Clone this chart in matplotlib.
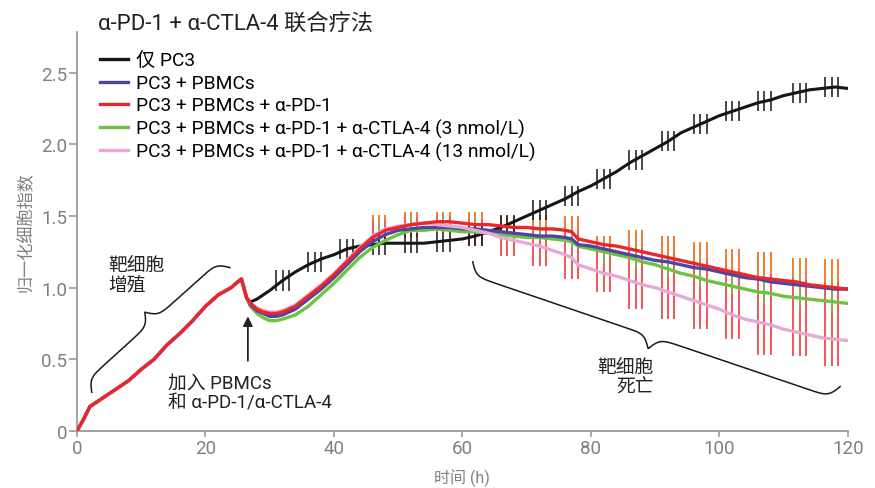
import numpy as np
import matplotlib
matplotlib.use("Agg")
import matplotlib.pyplot as plt

plt.rcParams['font.family'] = ['Roboto', 'Noto Sans CJK SC', 'DejaVu Sans']

# shared growth phase before PBMCs are added (h, normalized cell index)
t_growth = [0, 1, 2, 3, 4, 6, 8, 10, 12, 14, 16, 18, 20, 22, 24, 25, 25.6, 26.4]
growth = [0, 0.08, 0.17, 0.20, 0.23, 0.29, 0.35, 0.43, 0.50, 0.60, 0.68, 0.77,
          0.87, 0.95, 1.00, 1.04, 1.06, 0.93]

# after treatment
t_after = [27, 28, 29, 30, 31, 32, 34, 36, 38, 40, 42, 44, 46, 48, 50, 52, 54, 56,
           58, 60, 62, 64, 66, 68, 70, 72, 74, 76, 77, 78, 80, 82, 84, 86, 88, 90,
           92, 94, 96, 98, 100, 102, 104, 106, 108, 110, 112, 114, 116, 118, 120]
pbmc = [0.88, 0.84, 0.82, 0.80, 0.80, 0.81, 0.85, 0.92, 0.99, 1.07, 1.16, 1.25,
        1.32, 1.37, 1.40, 1.41, 1.42, 1.42, 1.42, 1.41, 1.41, 1.40, 1.39, 1.38,
        1.37, 1.36, 1.36, 1.35, 1.34, 1.30, 1.29, 1.27, 1.25, 1.23, 1.21, 1.19,
        1.18, 1.16, 1.14, 1.13, 1.11, 1.09, 1.07, 1.06, 1.04, 1.03, 1.02, 1.01,
        1.00, 0.99, 0.99]
pd1 = [0.89, 0.85, 0.83, 0.82, 0.82, 0.83, 0.87, 0.94, 1.01, 1.09, 1.18, 1.27,
       1.35, 1.40, 1.42, 1.44, 1.45, 1.46, 1.46, 1.45, 1.44, 1.44, 1.43, 1.42,
       1.42, 1.41, 1.41, 1.40, 1.39, 1.34, 1.32, 1.30, 1.29, 1.27, 1.25, 1.23,
       1.21, 1.19, 1.17, 1.15, 1.13, 1.11, 1.09, 1.07, 1.06, 1.05, 1.04, 1.02,
       1.01, 1.00, 0.99]
ctla_3 = [0.87, 0.82, 0.79, 0.77, 0.77, 0.78, 0.81, 0.87, 0.95, 1.03, 1.12, 1.21,
          1.28, 1.33, 1.37, 1.40, 1.40, 1.41, 1.40, 1.39, 1.39, 1.38, 1.37, 1.36,
          1.35, 1.35, 1.34, 1.33, 1.32, 1.29, 1.27, 1.25, 1.23, 1.21, 1.18, 1.16,
          1.13, 1.10, 1.08, 1.05, 1.03, 1.01, 0.99, 0.97, 0.96, 0.94, 0.93, 0.92,
          0.91, 0.90, 0.89]
ctla_13 = [0.89, 0.86, 0.84, 0.83, 0.83, 0.84, 0.88, 0.95, 1.02, 1.10, 1.19, 1.28,
           1.36, 1.41, 1.43, 1.44, 1.45, 1.44, 1.43, 1.42, 1.40, 1.38, 1.35, 1.33,
           1.31, 1.29, 1.26, 1.23, 1.21, 1.16, 1.13, 1.10, 1.08, 1.05, 1.02, 1.00,
           0.97, 0.94, 0.91, 0.88, 0.85, 0.81, 0.78, 0.76, 0.74, 0.71, 0.69, 0.67,
           0.65, 0.64, 0.63]

# PC3 only, after the dip
t_pc3 = [27, 28, 30, 32, 34, 36, 38, 40, 42, 44, 46, 48, 50, 52, 54, 56, 58, 60,
         62, 64, 66, 68, 70, 72, 74, 76, 78, 80, 82, 84, 86, 88, 90, 92, 94, 96, 98,
         100, 102, 104, 106, 108, 110, 112, 114, 116, 118, 120]
pc3 = [0.90, 0.92, 0.98, 1.05, 1.11, 1.16, 1.20, 1.23, 1.27, 1.29, 1.30, 1.31,
       1.31, 1.31, 1.31, 1.32, 1.33, 1.34, 1.36, 1.39, 1.42, 1.46, 1.50, 1.54,
       1.58, 1.62, 1.67, 1.71, 1.76, 1.81, 1.87, 1.92, 1.97, 2.02, 2.08, 2.12,
       2.16, 2.20, 2.23, 2.26, 2.29, 2.31, 2.34, 2.36, 2.38, 2.39, 2.40, 2.39]

# error bars: one group of three bars every ~5 h
bar_groups = [32, 37, 42, 47, 52, 57, 62, 67, 72, 77, 82, 87, 92, 97, 102, 107,
              112.5, 117.5]
pc3_bar_mid = [1.05, 1.18, 1.27, 1.30, 1.31, 1.32, 1.36, 1.44, 1.54, 1.64, 1.76,
               1.89, 2.02, 2.14, 2.23, 2.30, 2.36, 2.40]
pc3_bar_err = 0.07
treat_groups = [47, 52, 57, 62, 67, 72, 77, 82, 87, 92, 97, 102, 107, 112.5, 117.5]
treat_bar_hi = [1.51, 1.53, 1.53, 1.53, 1.50, 1.51, 1.50, 1.36, 1.40, 1.36, 1.32,
                1.27, 1.25, 1.21, 1.20]
treat_bar_lo = [1.30, 1.35, 1.39, 1.29, 1.22, 1.15, 1.06, 0.97, 0.85, 0.78, 0.71,
                0.64, 0.53, 0.52, 0.45]
bar_offsets = [-1, 0, 1]

labels = ['仅 PC3', 'PC3 + PBMCs', 'PC3 + PBMCs + α-PD-1',
          'PC3 + PBMCs + α-PD-1 + α-CTLA-4 (3 nmol/L)',
          'PC3 + PBMCs + α-PD-1 + α-CTLA-4 (13 nmol/L)']
colors = ['#161616', '#4b47a3', '#e9262b', '#6fc144', '#e9a9d3']

gray = '#808080'
ink = '#222222'

fig = plt.figure(figsize=(8.75, 4.89), dpi=100)
ax = fig.add_axes([0.088, 0.1166, 0.881, 0.816])

# error bars
for g, mid in zip(bar_groups, pc3_bar_mid):
    for off in bar_offsets:
        ax.vlines(g + off, mid - pc3_bar_err, mid + pc3_bar_err, color=colors[0],
                  lw=1.1, zorder=2)
for g, hi, lo in zip(treat_groups, treat_bar_hi, treat_bar_lo):
    span = hi - lo
    for off in bar_offsets:
        x = g + off
        ax.vlines(x, lo, hi, color='#ee2a2a', lw=1.1, zorder=1.5)
        ax.vlines(x, hi - 0.22 * span, hi, color='#f08c2a', lw=1.1, zorder=1.6)
        if off == 0:
            ax.vlines(x, hi - 0.5 * span, hi - 0.22 * span, color='#6fc144',
                      lw=1.1, zorder=1.6)

# curves
ax.plot(t_growth + t_pc3, growth + pc3, color=colors[0], lw=2.2, zorder=2.5,
        label=labels[0])
series = [(pbmc, 1, 3.2), (pd1, 2, 3.6), (ctla_3, 3, 3.0), (ctla_13, 4, 3.4)]
for vals, i, z in series:
    ax.plot(t_growth + t_after, growth + vals, color=colors[i], lw=2.4, zorder=z,
            label=labels[i])

ax.set_xlim(0, 120)
ax.set_ylim(0, 2.784)
ax.set_xticks([0, 20, 40, 60, 80, 100, 120])
ax.set_yticks([0, 0.5, 1.0, 1.5, 2.0, 2.5])
ax.set_yticklabels(['0', '0.5', '1.0', '1.5', '2.0', '2.5'])
for side in ['top', 'right']:
    ax.spines[side].set_visible(False)
for side in ['left', 'bottom']:
    ax.spines[side].set_color('#9a9a9a')
    ax.spines[side].set_linewidth(1.3)
ax.tick_params(colors='#9a9a9a', labelcolor=gray, labelsize=13.5, width=1.2)
ax.tick_params(axis='x', length=4, pad=2)
ax.tick_params(axis='y', length=6, pad=1)
ax.set_xlabel('时间 (h)', color=gray, fontsize=11.5)
ax.set_ylabel('归一化细胞指数', color=gray, fontsize=12.3)
ax.xaxis.set_label_coords(0.5, -0.115)
ax.yaxis.set_label_coords(-0.067, 0.5)
ax.xaxis.label.set_va('center')
ax.yaxis.label.set_va('center')

handles, _ = ax.get_legend_handles_labels()
leg = ax.legend(handles, labels, loc='upper left',
                bbox_to_anchor=(100 / 875, 1 - 53 / 489),
                bbox_transform=fig.transFigure, frameon=False, fontsize=13.8,
                handlelength=1.45, handletextpad=0.45, labelspacing=0.22,
                borderpad=0, borderaxespad=0)
for line in leg.get_lines():
    line.set_linewidth(2.4)

fig.text(98 / 875, 1 - 31 / 489, 'α-PD-1 + α-CTLA-4 联合疗法', fontsize=16,
         color=ink, va='baseline')


def brace(ax, p0, p1, depth, side):
    a = ax.transData.transform(p0)
    b = ax.transData.transform(p1)
    d = b - a
    L = np.hypot(*d)
    u = d / L
    n = np.array([-u[1], u[0]]) * side
    s = np.linspace(0, 1, 600)
    q = np.where(s < 0.5, s, 1 - s)
    k = L / 8.0
    h = depth / 2 * (np.tanh(k * q) + np.tanh(k * (q - 0.5)) + 1)
    pts = a + np.outer(s * L, u) + np.outer(h, n)
    xy = ax.transData.inverted().transform(pts)
    ax.plot(xy[:, 0], xy[:, 1], color='#1a1a1a', lw=1.1, clip_on=False, zorder=7)


brace(ax, (2.3, 0.27), (23.8, 1.14), 24, 1)
brace(ax, (61.6, 1.18), (118.8, 0.31), 26, -1)

ax.text(4.8, 1.22, '靶细胞\n增殖', fontsize=13.5, color=ink, va='top',
        ha='left', linespacing=1.1)
ax.text(89.8, 0.51, '靶细胞\n死亡', fontsize=13.5, color=ink, va='top',
        ha='right', multialignment='right', linespacing=1.1)
ax.text(14.2, 0.40, '加入 PBMCs\n和 α-PD-1/α-CTLA-4', fontsize=13.5, color=ink,
        va='top', ha='left', linespacing=1.15)
ax.annotate('', xy=(26.6, 0.80), xytext=(26.6, 0.49),
            arrowprops=dict(arrowstyle='-|>', color=ink, lw=1.3,
                            mutation_scale=14, shrinkA=0, shrinkB=0))

fig.savefig('out.png', dpi=100)
